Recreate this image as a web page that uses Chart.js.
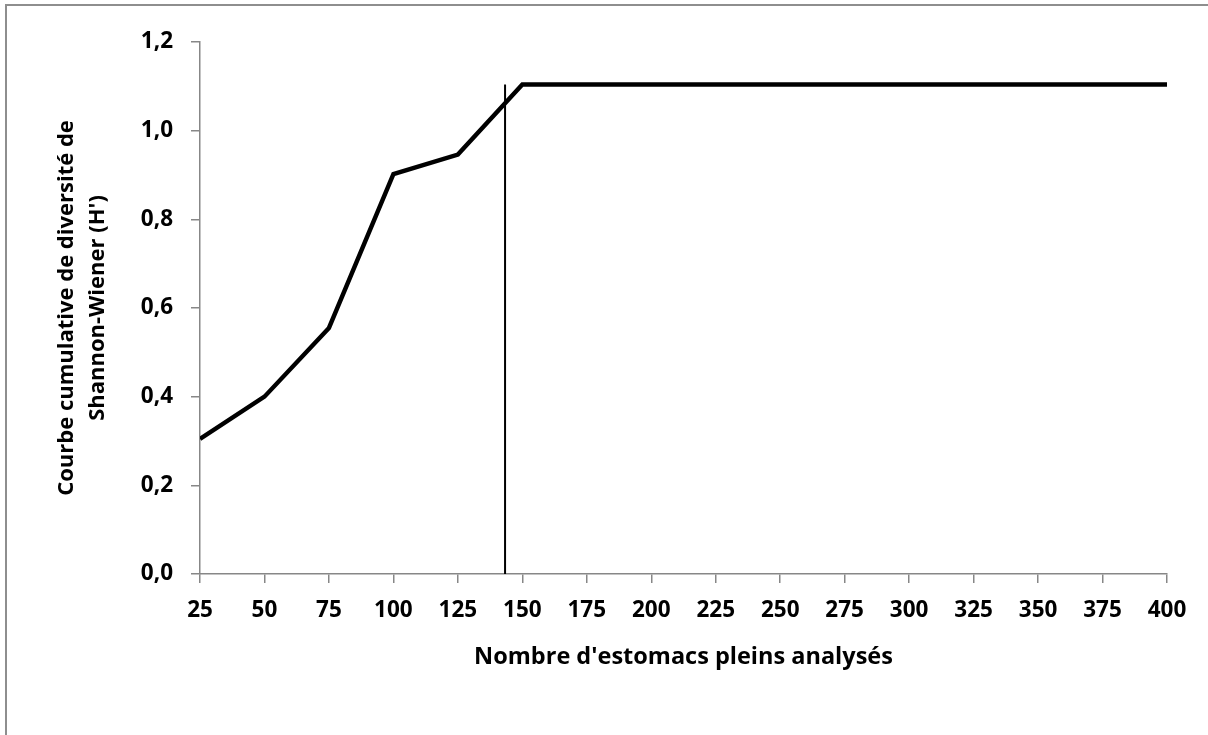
<!DOCTYPE html>
<html>
<head>
<meta charset="utf-8">
<script src="https://cdn.jsdelivr.net/npm/chart.js@4"></script>
<style>
  html, body { margin: 0; padding: 0; background: #fff; overflow: hidden; }
  #wrap { position: relative; width: 1208px; height: 735px; }
  #frame { position: absolute; left: 5px; top: 4px; width: 1400px; height: 900px; border: 2px solid #8e8e8e; box-sizing: border-box; }
  canvas { position: absolute; left: 0; top: 0; }
</style>
</head>
<body>
<div id="wrap">
  <div id="frame"></div>
  <canvas id="c" width="1208" height="735"></canvas>
</div>
<script>
// Data
const nombres = [25, 50, 75, 100, 125, 150, 175, 200, 225, 250, 275, 300, 325, 350, 375, 400];
const shannonH = [0.305, 0.40, 0.555, 0.902, 0.946, 1.104, 1.104, 1.104, 1.104, 1.104, 1.104, 1.104, 1.104, 1.104, 1.104, 1.104];
const seuilX = [143.3, 143.3];
const seuilY = [0, 1.104];
const yTitle = ["Courbe cumulative de diversité de", "Shannon-Wiener (H')"];
const xTitle = "Nombre d'estomacs pleins analysés";

const FONT = "'Open Sans', 'Liberation Sans', sans-serif";
const AXIS_GRAY = '#878787';

new Chart(document.getElementById('c'), {
  type: 'line',
  data: {
    datasets: [
      {
        data: nombres.map((x, i) => ({ x: x, y: shannonH[i] })),
        borderColor: '#000',
        borderWidth: 4.4,
        pointRadius: 0,
        tension: 0,
        borderJoinStyle: 'miter'
      },
      {
        data: seuilX.map((x, i) => ({ x: x, y: seuilY[i] })),
        borderColor: '#000',
        borderWidth: 2,
        pointRadius: 0
      }
    ]
  },
  options: {
    responsive: false,
    animation: false,
    layout: { padding: { left: 0, top: 42, right: 41, bottom: 0 } },
    plugins: { legend: { display: false }, tooltip: { enabled: false } },
    scales: {
      x: {
        type: 'linear',
        min: 25, max: 400,
        afterFit: (s) => { s.height = 161; },
        border: { display: true, color: AXIS_GRAY, width: 1.5 },
        grid: { display: true, drawOnChartArea: false, drawTicks: true, tickLength: 9, color: AXIS_GRAY, lineWidth: 1.5 },
        ticks: { stepSize: 25, autoSkip: false, maxRotation: 0, color: '#000', padding: 14, font: { family: FONT, size: 22.5, weight: 'bold' } },
        title: { display: true, text: xTitle, color: '#000', font: { family: FONT, size: 23.5, weight: 'bold' }, padding: { top: 0, bottom: 64 } }
      },
      y: {
        min: 0, max: 1.2,
        afterFit: (s) => { s.width = 200; },
        border: { display: true, color: AXIS_GRAY, width: 1.5 },
        grid: { display: true, drawOnChartArea: false, drawTicks: true, tickLength: 9, color: AXIS_GRAY, lineWidth: 1.5 },
        ticks: { stepSize: 0.2, color: '#000', padding: 18, font: { family: FONT, size: 22.5, weight: 'bold' },
                 callback: (v) => v.toFixed(1).replace('.', ',') },
        title: { display: true, text: yTitle, color: '#000', font: { family: FONT, size: 22, weight: 'bold', lineHeight: 1.38 }, padding: { top: 52, bottom: 0 } }
      }
    }
  }
});
</script>
</body>
</html>
